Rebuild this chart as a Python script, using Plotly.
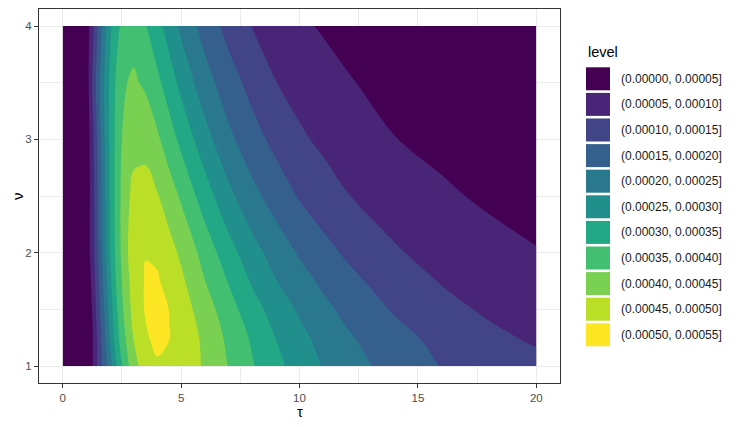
import plotly.graph_objects as go

# ---- data (in units of 1e-5) ----
tau = [0, 0.5, 1.0, 1.25, 1.5, 1.75, 2.0, 2.25, 2.5, 2.75, 3.0, 3.5, 4.0, 4.5,
       5, 6, 7, 8, 9, 10, 11, 12, 14, 16, 18, 20]
nu = [1, 1.25, 1.5, 1.75, 2, 2.5, 3, 3.5, 4]

row_nu_100 = [0, 0, 1, 4.5, 11.2, 17.2, 23, 29.3, 35, 39.3, 43.2, 47.5, 49.3, 49.2, 48, 44.4, 39.8, 35.4, 31.4, 27.9, 24.7, 22.2, 18.0, 14.8, 13.0, 11.5]
row_nu_125 = [0, 0, 1, 4.5, 11.5, 18.6, 25.6, 32.4, 37.4, 41.5, 45.3, 49.3, 51.4, 50.1, 48.2, 44.0, 38.9, 34.3, 29.9, 26.3, 23.4, 20.7, 16.6, 13.6, 11.2, 9.2]
row_nu_150 = [0, 0, 1, 5.2, 12.9, 20, 27.2, 33.8, 39, 43.6, 46.4, 50.5, 52, 49.9, 47.5, 42.4, 37.1, 32, 27.8, 24.3, 21.3, 18.7, 14.5, 11.6, 9.2, 7.6]
row_nu_175 = [0, 0, 1.3, 6.2, 14, 21.5, 28.6, 35, 40, 44.3, 46.8, 50.5, 50.5, 48.3, 46, 40.1, 34.7, 29.4, 25.2, 21.9, 19, 16.4, 12.6, 9.7, 7.9, 6.5]
row_nu_200 = [0, 0, 1.5, 7.5, 15, 22.6, 30, 36, 41, 44.9, 47.3, 49.8, 49.2, 46.8, 44.1, 38.1, 32, 26.9, 22.9, 19.5, 16.6, 14.3, 10.6, 8.0, 6.3, 5.2]
row_nu_250 = [0, 0, 1.5, 7.6, 15.6, 23.4, 30.5, 36.4, 41, 44.4, 46, 46.4, 45.3, 42.4, 39.3, 32.4, 26.3, 21.5, 17.8, 14.6, 12.3, 10.2, 7.5, 5.6, 4.4, 3.5]
row_nu_300 = [0, 0, 1.5, 8, 16.6, 24.4, 31, 36.1, 40, 42.5, 43.8, 43.8, 40.8, 37.3, 33.7, 26.9, 21.2, 16.9, 13.6, 10.8, 9.0, 7.6, 5.1, 4.0, 3.1, 2.5]
row_nu_350 = [0, 0, 2, 10, 18, 25.4, 31, 35.5, 38, 40.1, 40.8, 39.1, 36.1, 32.5, 28.6, 22.1, 17.2, 13.4, 10.1, 8.2, 6.6, 5.3, 3.8, 2.9, 2.3, 1.9]
row_nu_400 = [0, 0, 2, 8, 15.5, 22.7, 29, 33.5, 35.9, 37.5, 37.8, 35.3, 31.6, 27.7, 24, 18, 13.4, 9.9, 7.8, 5.7, 4.6, 3.9, 2.8, 2.1, 1.6, 1.3]

rows_1e5 = [row_nu_100, row_nu_125, row_nu_150, row_nu_175, row_nu_200,
            row_nu_250, row_nu_300, row_nu_350, row_nu_400]

level_start = 0.00005
level_end = 0.00050
level_size = 0.00005

level_labels = ["(0.00000, 0.00005]", "(0.00005, 0.00010]", "(0.00010, 0.00015]",
                "(0.00015, 0.00020]", "(0.00020, 0.00025]", "(0.00025, 0.00030]",
                "(0.00030, 0.00035]", "(0.00035, 0.00040]", "(0.00040, 0.00045]",
                "(0.00045, 0.00050]", "(0.00050, 0.00055]"]

x_ticks = [0, 5, 10, 15, 20]
y_ticks = [1, 2, 3, 4]

# ---- style ----
viridis11 = ["#440154", "#482576", "#414487", "#35608D", "#2A788E", "#21908C",
             "#22A884", "#43BF71", "#7AD151", "#BBDF27", "#FDE725"]

z = [[v * 1e-5 for v in row] for row in rows_1e5]

fig = go.Figure()
fig.add_trace(go.Contour(
    x=tau, y=nu, z=z,
    autocontour=False,
    contours=dict(start=level_start, end=level_end, size=level_size,
                  coloring="fill", showlines=False),
    line=dict(width=0, smoothing=1.0),
    colorscale=[[k / 10, c] for k, c in enumerate(viridis11)],
    showscale=False,
    hoverinfo="skip",
))

FONT = "Liberation Sans, Arial, sans-serif"
OFF = 8  # the page body margin shifts the figure by 8 px
W, H = 747 - OFF, 427 - OFF
# target plot area in window pixels: x 39..560, y 9..383
ml, mr, mt, mb = 39 - OFF, 747 - 560, 9 - OFF, 427 - 383
pw, ph = W - ml - mr, H - mt - mb


def px2paper(px, py):
    # px, py are window pixel coordinates (as in the reference)
    return (px - OFF - ml) / pw, (H - mb - (py - OFF)) / ph


shapes = []
annotations = []
cell_top0 = 66.0
cell_h = 25.6
for i, (lab, col) in enumerate(zip(level_labels, viridis11)):
    top = cell_top0 + i * cell_h
    x0, y0 = px2paper(586, top + 1.3)
    x1, y1 = px2paper(610, top + cell_h - 1.3)
    shapes.append(dict(type="rect", xref="paper", yref="paper",
                       x0=x0, x1=x1, y0=y1, y1=y0,
                       fillcolor=col, line=dict(width=0), layer="above"))
    tx, ty = px2paper(619, top + cell_h / 2)
    annotations.append(dict(xref="paper", yref="paper", x=tx, y=ty,
                            text=lab, showarrow=False, xanchor="left",
                            yanchor="middle",
                            font=dict(family=FONT, size=12, color="#1A1A1A")))

tx, ty = px2paper(586, 52)
annotations.append(dict(xref="paper", yref="paper", x=tx, y=ty, text="level",
                        showarrow=False, xanchor="left", yanchor="middle",
                        font=dict(family=FONT, size=14.5, color="#000000")))

# axis titles
tx, ty = px2paper(299.5, 411)
annotations.append(dict(xref="paper", yref="paper", x=tx, y=ty, text="τ",
                        showarrow=False, xanchor="center", yanchor="middle",
                        font=dict(family=FONT, size=15, color="#000000")))
tx, ty = px2paper(17, 196)
annotations.append(dict(xref="paper", yref="paper", x=tx, y=ty, text="ν",
                        showarrow=False, xanchor="center", yanchor="middle",
                        textangle=-90,
                        font=dict(family=FONT, size=15, color="#000000")))

axis_common = dict(
    showgrid=True, gridcolor="#EBEBEB", gridwidth=1.1,
    zeroline=False, showline=True, mirror=True, linecolor="#333333", linewidth=1,
    ticks="outside", ticklen=4, tickcolor="#333333", tickwidth=1,
    tickfont=dict(family=FONT, size=11.5, color="#4D4D4D"),
    automargin=False,
)

fig.update_layout(
    width=W, height=H,
    margin=dict(l=ml, r=mr, t=mt, b=mb, pad=0),
    paper_bgcolor="white", plot_bgcolor="white",
    showlegend=False,
    shapes=shapes, annotations=annotations,
    xaxis=dict(range=[-1, 21], tickvals=x_ticks,
               minor=dict(showgrid=True, gridcolor="#EBEBEB", gridwidth=0.6, dtick=2.5, tick0=0),
               **axis_common),
    yaxis=dict(range=[0.85, 4.15], tickvals=y_ticks,
               minor=dict(showgrid=True, gridcolor="#EBEBEB", gridwidth=0.6, dtick=0.5, tick0=0),
               **axis_common),
)

fig.write_html("out.html")
